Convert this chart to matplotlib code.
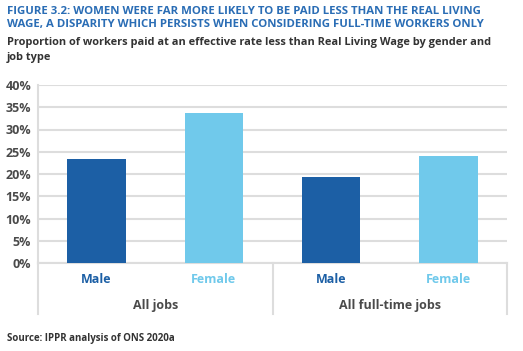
import matplotlib.pyplot as plt
from matplotlib.lines import Line2D

# data
genders = ["Male", "Female", "Male", "Female"]
groups = ["All jobs", "All full-time jobs"]
values = [23.4, 33.7, 19.3, 24.0]
yticks = [0, 5, 10, 15, 20, 25, 30, 35, 40]

dark_blue = "#1c5fa5"
light_blue = "#70c9eb"
grey_text = "#4a4a4a"
colors = [dark_blue, light_blue, dark_blue, light_blue]

plt.rcParams['font.family'] = ['Open Sans', 'DejaVu Sans']

fig = plt.figure(figsize=(5.23, 3.51), dpi=100)
ax = fig.add_axes([38 / 523, 1 - 263 / 351, 469 / 523, 178 / 351])

x = list(range(len(values)))
ax.bar(x, values, width=0.5, color=colors, zorder=3)
ax.set_xlim(-0.5, len(values) - 0.5)
ax.set_ylim(0, 40)
ax.set_yticks(yticks)
ax.set_yticklabels([f"{t}%" for t in yticks], fontsize=9, fontweight="bold", color=grey_text)
ax.yaxis.grid(True, color="#dddddd", linewidth=1.5, zorder=0)
ax.tick_params(axis="y", length=0, pad=5)
ax.set_xticks([])
for s in ["top", "right", "bottom"]:
    ax.spines[s].set_visible(False)
ax.spines["left"].set_color("#dddddd")
ax.spines["left"].set_linewidth(1.5)

# category labels under the axis
for xi, g, c in zip(x, genders, colors):
    ax.text(xi, -3.6, g, ha="center", va="center", fontsize=9, fontweight="bold",
            color=c, clip_on=False)
for i, g in enumerate(groups):
    ax.text(2 * i + 0.5, -9.6, g, ha="center", va="center", fontsize=9, fontweight="bold",
            color=grey_text, clip_on=False)

# separators between groups
for xs in [-0.5, 1.5, 3.5]:
    ax.add_line(Line2D([xs, xs], [0, -11.4], color="#dddddd", linewidth=1.5, clip_on=False))
ax.add_line(Line2D([-0.5, 3.5], [0, 0], color="#dddddd", linewidth=1.5, clip_on=False))

fig.text(7 / 523, 1 - 18 / 351,
         "FIGURE 3.2: WOMEN WERE FAR MORE LIKELY TO BE PAID LESS THAN THE REAL LIVING\n"
         "WAGE, A DISPARITY WHICH PERSISTS WHEN CONSIDERING FULL-TIME WORKERS ONLY",
         ha="left", va="center", fontsize=8.2, fontweight="bold", color="#2a6db5",
         linespacing=1.2)
fig.text(7 / 523, 1 - 50 / 351,
         "Proportion of workers paid at an effective rate less than Real Living Wage by gender and\n"
         "job type",
         ha="left", va="center", fontsize=7.9, fontweight="bold", color="#333333",
         linespacing=1.4)
fig.text(7 / 523, 1 - 339 / 351, "Source: IPPR analysis of ONS 2020a",
         ha="left", va="center", fontsize=7, fontweight="bold", color="#333333")

fig.savefig("out.png", dpi=100)
